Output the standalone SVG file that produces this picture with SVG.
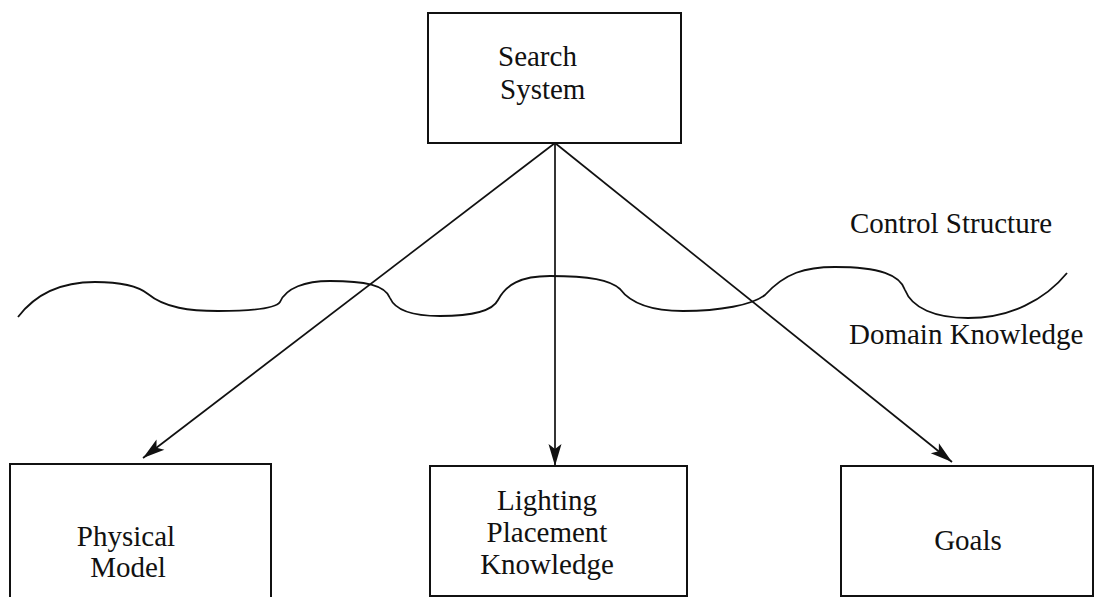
<svg xmlns="http://www.w3.org/2000/svg" width="1097" height="597" viewBox="0 0 1097 597">
  <style>
    .box { fill: #ffffff; stroke: #111111; stroke-width: 2; }
    .lbl { font-family: "Liberation Serif", "Times New Roman", serif; font-size: 29px; fill: #111111; }
    .edge { fill: none; stroke: #111111; stroke-width: 1.7; }
    .wave { fill: none; stroke: #111111; stroke-width: 1.8; }
  </style>
  <defs>
    <marker id="arrow" viewBox="-24 -8 26 16" refX="0" refY="0" markerWidth="26" markerHeight="16" markerUnits="userSpaceOnUse" orient="auto">
      <path d="M0,0 L-22,-6.5 L-17,0 L-22,6.5 Z" fill="#111111"/>
    </marker>
  </defs>
  <rect width="1097" height="597" fill="#ffffff"/>

  <!-- boundary between control structure and domain knowledge -->
  <path class="wave" d="M18,317 C40,288 70,282 95,282 C120,282 138,286 148,294 C165,308 190,311 218,311 C250,311 275,309 280,302 C286,288 305,281 330,281 C365,281 385,285 390,298 C396,312 415,316 440,316 C470,316 492,312 498,300 C506,285 520,276 550,276 C590,276 610,280 620,289 C632,305 655,311 683,311 C720,311 752,305 765,295 C785,273 805,267 835,267 C880,267 900,275 905,290 C912,308 935,318 968,318 C1010,318 1045,300 1067,273"/>

  <text class="lbl" x="850" y="233">Control Structure</text>
  <text class="lbl" x="849" y="344">Domain Knowledge</text>

  <g id="connectors">
    <line class="edge" x1="555" y1="143" x2="143" y2="458" marker-end="url(#arrow)"/>
    <line class="edge" x1="555" y1="143" x2="555" y2="466" marker-end="url(#arrow)"/>
    <line class="edge" x1="555" y1="143" x2="952" y2="462" marker-end="url(#arrow)"/>
  </g>

  <g id="search-system">
    <rect class="box" x="428" y="13" width="253" height="130"/>
    <text class="lbl" x="498" y="66">Search</text>
    <text class="lbl" x="500" y="99">System</text>
  </g>

  <g id="physical-model">
    <rect class="box" x="10" y="464" width="261" height="140"/>
    <text class="lbl" x="126" y="546" text-anchor="middle">Physical</text>
    <text class="lbl" x="128" y="577" text-anchor="middle">Model</text>
  </g>

  <g id="lighting-placement">
    <rect class="box" x="430" y="466" width="257" height="130"/>
    <text class="lbl" x="547" y="510" text-anchor="middle">Lighting</text>
    <text class="lbl" x="547" y="542" text-anchor="middle">Placement</text>
    <text class="lbl" x="547" y="574" text-anchor="middle">Knowledge</text>
  </g>

  <g id="goals">
    <rect class="box" x="841" y="466" width="252" height="130"/>
    <text class="lbl" x="968" y="550" text-anchor="middle">Goals</text>
  </g>
</svg>
